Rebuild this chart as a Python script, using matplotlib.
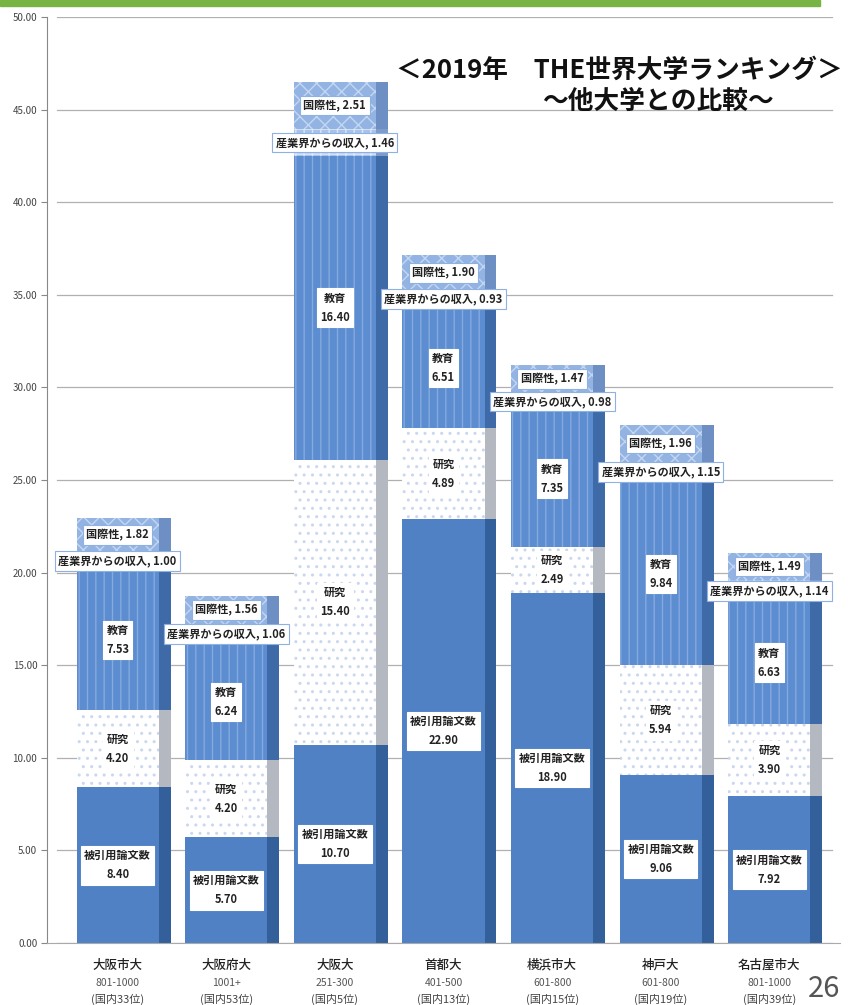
import matplotlib
matplotlib.use("Agg")
import matplotlib.pyplot as plt
import numpy as np

plt.rcParams['font.family'] = ['Noto Sans CJK JP', 'DejaVu Sans']
plt.rcParams['hatch.linewidth'] = 1.0

universities = ["大阪市大", "大阪府大", "大阪大", "首都大", "横浜市大", "神戸大", "名古屋市大"]
ranks = ["801-1000", "1001+", "251-300", "401-500", "601-800", "601-800", "801-1000"]
domestic = ["(国内33位)", "(国内53位)", "(国内5位)", "(国内13位)", "(国内15位)", "(国内19位)", "(国内39位)"]

series_names = ["被引用論文数", "研究", "教育", "産業界からの収入", "国際性"]
citations = [8.40, 5.70, 10.70, 22.90, 18.90, 9.06, 7.92]
research = [4.20, 4.20, 15.40, 4.89, 2.49, 5.94, 3.90]
teaching = [7.53, 6.24, 16.40, 6.51, 7.35, 9.84, 6.63]
industry = [1.00, 1.06, 1.46, 0.93, 0.98, 1.15, 1.14]
international = [1.82, 1.56, 2.51, 1.90, 1.47, 1.96, 1.49]

yticks = [0, 5, 10, 15, 20, 25, 30, 35, 40, 45, 50]

data = [citations, research, teaching, industry, international]
front_styles = [
    dict(facecolor="#4f81c4", hatch=None, edgecolor="#4f81c4"),
    dict(facecolor="#ffffff", hatch="..", edgecolor="#c9d8ef"),
    dict(facecolor="#5b8dd0", hatch="||", edgecolor="#86a9df"),
    dict(facecolor="#a8c3ea", hatch="++", edgecolor="#dbe6f6"),
    dict(facecolor="#93b4e3", hatch="xx", edgecolor="#c4d6f0"),
]
side_colors = ["#33609a", "#b4b8c0", "#3f6aa8", "#7f9cc8", "#6d8fc4"]

fig = plt.figure(figsize=(8.48, 10.05), dpi=100)
ax = fig.add_axes([47/848, 1-943/1005, (840-47)/848, (943-17)/1005])

x = np.arange(len(universities))
w = 0.755
depth = 0.11

# gridlines
for t in yticks:
    ax.axhline(t, color="#b0b0b0", lw=0.9, zorder=0, xmin=0.012, xmax=0.99)

bottom = np.zeros(len(x))
for i, vals in enumerate(data):
    vals = np.array(vals)
    st = front_styles[i]
    ax.bar(x, vals, w, bottom=bottom, facecolor=st["facecolor"], edgecolor=st["edgecolor"],
           hatch=st["hatch"], linewidth=0, zorder=2)
    ax.bar(x + w/2, vals, depth, bottom=bottom, align="edge", color=side_colors[i],
           linewidth=0, zorder=2)
    centers = bottom + vals/2
    for j in range(len(x)):
        if i in (3, 4):
            txt = f"{series_names[i]}, {vals[j]:.2f}"
        else:
            txt = f"{series_names[i]}\n{vals[j]:.2f}"
        ax.text(x[j], centers[j], txt, ha="center", va="center", fontsize=8,
                fontweight="bold", color="#222222", linespacing=1.6, zorder=5,
                bbox=dict(boxstyle="square,pad=0.3", facecolor="white",
                          edgecolor="#8fb0e2" if i in (3, 4) else "white", lw=0.8))
    bottom = bottom + vals

ax.set_xlim(-0.65, 6.65)
ax.set_ylim(0, 50)
ax.set_yticks(yticks)
ax.set_yticklabels([f"{t:.2f}" for t in yticks], fontsize=7, color="#444444")
ax.tick_params(axis="y", length=4, color="#888888", pad=3)
ax.set_xticks(x)
ax.set_xticklabels([])
ax.tick_params(axis="x", length=0)
for j in range(len(x)):
    ax.annotate(universities[j], xy=(x[j], 0), xycoords=("data", "axes fraction"),
                xytext=(0, -22), textcoords="offset pixels", ha="center", va="center",
                fontsize=9, fontweight="medium", color="#222222")
    ax.annotate(ranks[j], xy=(x[j], 0), xycoords=("data", "axes fraction"),
                xytext=(0, -40), textcoords="offset pixels", ha="center", va="center",
                fontsize=7.5, color="#555555")
    ax.annotate(domestic[j], xy=(x[j], 0), xycoords=("data", "axes fraction"),
                xytext=(0, -56), textcoords="offset pixels", ha="center", va="center",
                fontsize=8, color="#444444")
for s in ["top", "right"]:
    ax.spines[s].set_visible(False)
ax.spines["left"].set_color("#888888")
ax.spines["bottom"].set_color("#aaaaaa")

# header green line
fig.patches.append(plt.Rectangle((0, 1-6/1005), 820/848, 6/1005, transform=fig.transFigure,
                                 color="#78b443", zorder=10))

fig.text(396/848, 1-70/1005, "＜2019年　THE世界大学ランキング＞", fontsize=18.5, fontweight="bold",
         ha="left", va="center", color="#111111")
fig.text(658/848, 1-101/1005, "～他大学との比較～", fontsize=18.5, fontweight="bold",
         ha="center", va="center", color="#111111")
fig.text(808/848, 1/1005, "26", fontsize=21, color="#555555", ha="left", va="bottom")

fig.savefig("out.png", dpi=100)
